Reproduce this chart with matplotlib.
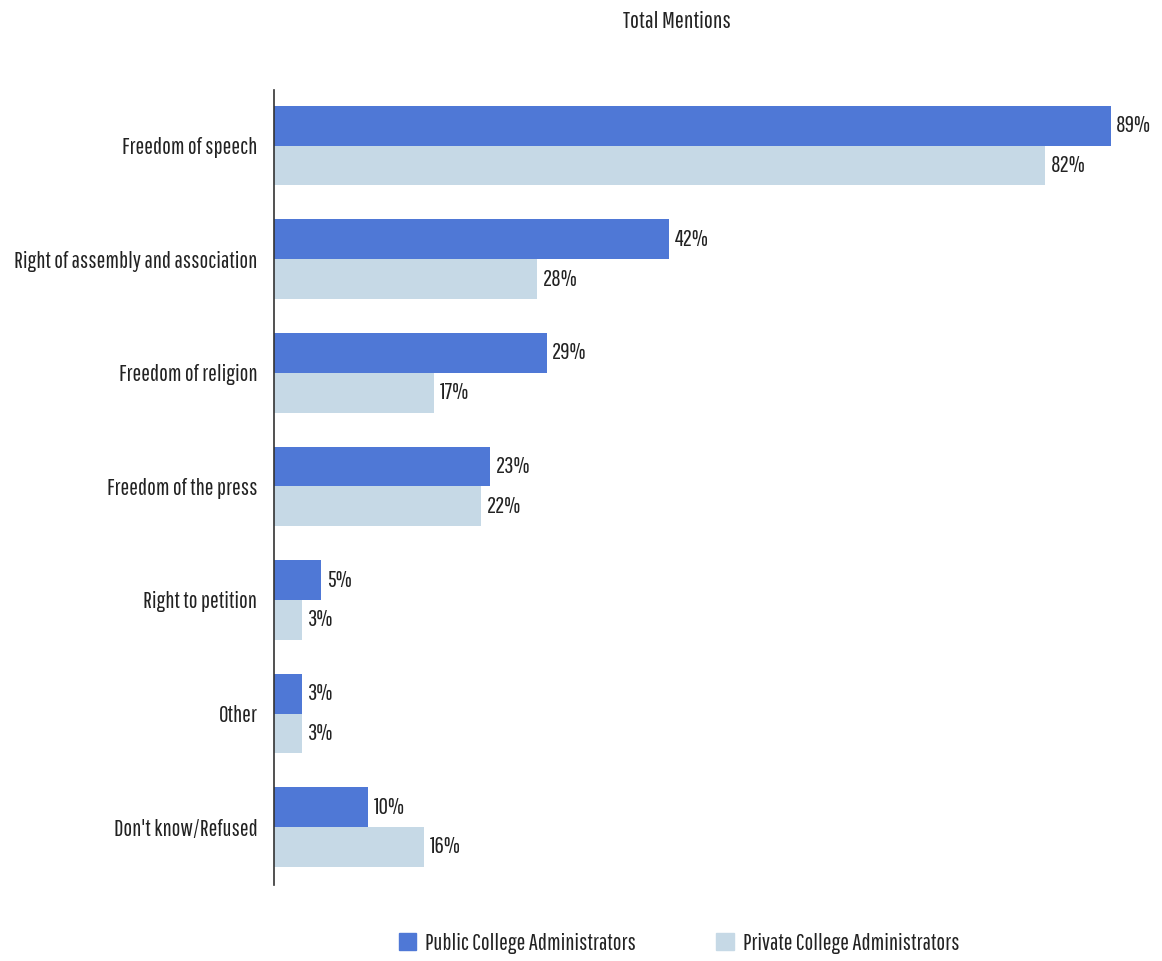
import numpy as np
import matplotlib.pyplot as plt
from matplotlib.patches import Patch

# Survey results, percent of administrators mentioning each freedom
categories = ['Freedom of speech', 'Right of assembly and association', 'Freedom of religion',
              'Freedom of the press', 'Right to petition', 'Other', "Don't know/Refused"]
public = [89, 42, 29, 23, 5, 3, 10]
private = [82, 28, 17, 22, 3, 3, 16]

blue = '#4f78d6'
light = '#c6d9e6'
ink = '#222222'
fs = 16.7

plt.rcParams['font.family'] = ['Pathway Gothic One', 'DejaVu Sans']

fig = plt.figure(figsize=(11.62, 9.61), dpi=100)
ax = fig.add_axes([274 / 1162, 76 / 961, 880 / 1162, 795 / 961])

y = np.arange(len(categories))
h = 0.35
b1 = ax.barh(y - h / 2, public, height=h, color=blue)
b2 = ax.barh(y + h / 2, private, height=h, color=light)

for bars, vals in ((b1, public), (b2, private)):
    for bar, v in zip(bars, vals):
        ax.text(bar.get_width() + 0.6, bar.get_y() + bar.get_height() / 2, f'{v}%',
                va='center', ha='left', fontsize=fs, color=ink)

ax.set_xlim(0, 880 / 9.40)
ax.set_ylim(len(categories) - 0.49, -0.49)
ax.set_yticks(y)
ax.set_yticklabels(categories, fontsize=fs, color=ink)
ax.tick_params(axis='y', length=0, pad=12)
ax.set_xticks([])
for side in ('top', 'right', 'bottom'):
    ax.spines[side].set_visible(False)
ax.spines['left'].set_color('#333333')
ax.spines['left'].set_linewidth(1.2)

fig.text(677 / 1162, 1 - 22 / 961, 'Total Mentions', ha='center', va='center',
         fontsize=fs + 0.5, color=ink)

handles = [Patch(color=blue), Patch(color=light)]
fig.legend(handles, ['Public College Administrators', 'Private College Administrators'],
           loc='center', bbox_to_anchor=(679 / 1162, 1 - 943 / 961), ncol=2, frameon=False,
           fontsize=fs, handlelength=0.75, handleheight=0.75, handletextpad=0.4,
           columnspacing=3.45, labelcolor=ink)

fig.savefig('out.png', dpi=100)
